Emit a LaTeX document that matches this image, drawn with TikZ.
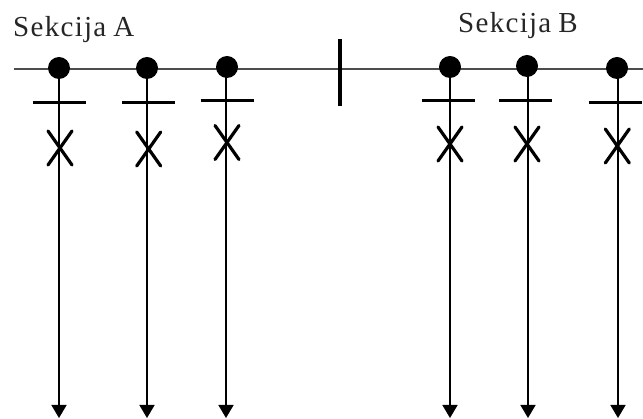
\documentclass[tikz,border=0pt]{standalone}
\usepackage{fontspec}
\setmainfont{Liberation Serif}
\usetikzlibrary{arrows.meta}
\tikzset{
  busline/.style={draw=black!70,line width=2pt},
  dotnode/.style={circle,fill=black,inner sep=0pt,minimum size=22pt},
  stem/.style={draw=black,line width=1.7pt,-{Triangle[length=13pt,width=15pt,fill=black]}},
  barline/.style={draw=black,line width=3pt},
  crossline/.style={draw=black,line width=3.2pt,line cap=round},
  tieline/.style={draw=black,line width=3.5pt},
  label/.style={inner sep=0pt,font=\fontsize{29}{29}\selectfont,text=black!85,anchor=base west}
}
\newcommand{\spc}{\kern1.3pt}
\begin{document}
\begin{tikzpicture}[x=1pt,y=-1pt]
\useasboundingbox (0,0) rectangle (643,419);
\node[label] (sa) at (13,37) {S\spc e\spc k\spc c\spc i\spc j\spc a\kern7pt A};
\node[label] (sb) at (458,33) {S\spc e\spc k\spc c\spc i\spc j\spc a\kern7pt B};
\coordinate (busl) at (14,69);
\coordinate (busr) at (643,69);
\draw[busline] (busl) -- (busr);
\coordinate (tiet) at (340,39);
\coordinate (tieb) at (340,106);
\draw[tieline] (tiet) -- (tieb);
\foreach \n/\x/\s/\yd/\bx/\yb/\cx/\yc in {a1/59/59/68/59.3/102.5/60/148,a2/147/147/68/148.3/102.5/148.7/149,a3/227/226/67/227/100.5/227/142.5,b1/450/450/67/448.4/100.5/450/144,b2/527/528/66/525.5/100.5/527/144,b3/617/618/68/615.4/102.5/617.3/146}{
  \coordinate (top\n) at (\s,\yd);
  \coordinate (end\n) at (\s,418);
  \draw[stem] (top\n) -- (end\n);
  \node[dotnode] (dot\n) at (\x,\yd) {};
  \coordinate (barl\n) at (\bx-26.5,\yb);
  \coordinate (barr\n) at (\bx+26.5,\yb);
  \draw[barline] (barl\n) -- (barr\n);
  \coordinate (xa\n) at (\cx-12,\yc-17);
  \coordinate (xb\n) at (\cx+12,\yc+17);
  \coordinate (xc\n) at (\cx+12,\yc-17);
  \coordinate (xd\n) at (\cx-12,\yc+17);
  \draw[crossline] (xa\n) -- (xb\n);
  \draw[crossline] (xc\n) -- (xd\n);
}
\end{tikzpicture}
\end{document}
